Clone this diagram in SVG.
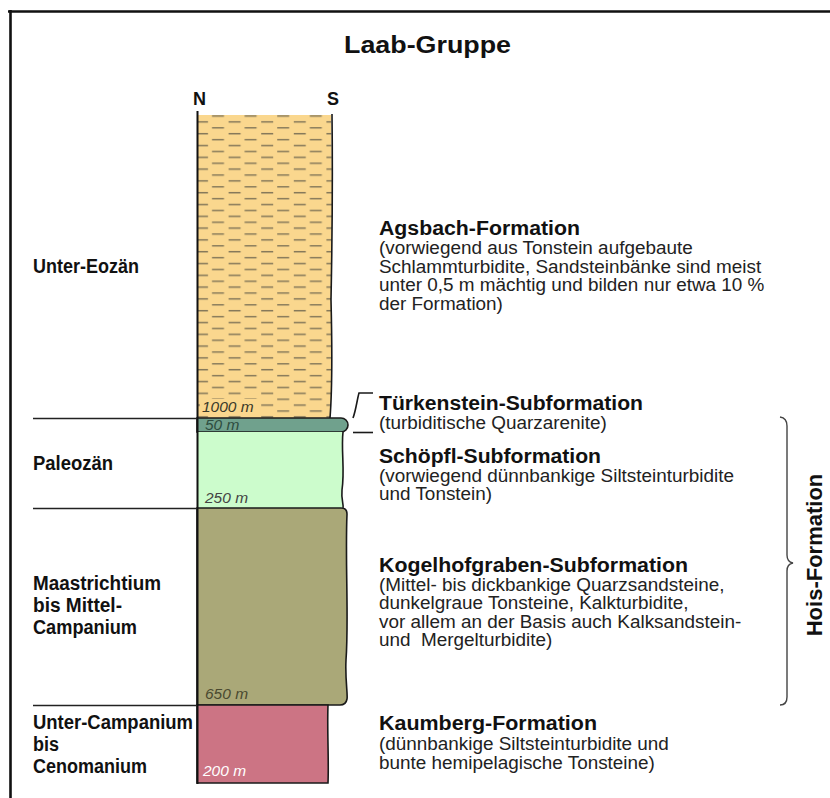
<svg xmlns="http://www.w3.org/2000/svg" width="830" height="798" viewBox="0 0 830 798">
<defs>
<style>
text{font-family:"Liberation Sans",Arial,Helvetica,sans-serif}
.h{font-size:19.5px;font-weight:bold;fill:#111}
.r{font-size:18.9px;fill:#222}
.lab{font-size:20px;font-weight:bold;fill:#111}
.num{font-style:italic;font-size:15.5px}
.edge{stroke:#1a1a1a;stroke-width:1.6}
.line{stroke:#1a1a1a;stroke-width:1.6;fill:none}
.div{stroke:#222;stroke-width:1.6}
.dash{stroke:#85795a;stroke-width:1.5}
</style>
<pattern id="dashes" patternUnits="userSpaceOnUse" x="196" y="115.3" width="32.6" height="11.8">
<rect width="32.6" height="11.8" fill="#fad78e"/>
<line class="dash" x1="16" y1="0.7" x2="28" y2="0.7"/>
<line class="dash" x1="0" y1="6.6" x2="12" y2="6.6"/>
</pattern>
</defs>
<rect width="830" height="798" fill="#fff"/>
<path d="M8,11.5 H830 M10.5,10 V798" stroke="#111" stroke-width="2.6" fill="none"/>
<text x="427.5" y="53" text-anchor="middle" font-size="23.5" font-weight="bold" fill="#111" textLength="167" lengthAdjust="spacingAndGlyphs">Laab-Gruppe</text>
<text x="193" y="105" font-size="18" font-weight="bold" fill="#111">N</text>
<text x="327" y="105" font-size="18" font-weight="bold" fill="#111">S</text>

<g id="agsbach">
<path d="M197,115 H331 Q333,200 331,300 Q333,380 330,418 H197 Z" fill="url(#dashes)"/>
<path class="line" d="M332,114 Q333,200 331,300 Q333,380 330,418"/>
<rect x="200" y="399" width="59" height="15" fill="#fad78e"/>
<text class="num" x="202" y="412" font-size="16.5" fill="#3a3a2a">1000 m</text>
<text class="lab" x="33" y="273" textLength="106" lengthAdjust="spacingAndGlyphs">Unter-Eozän</text>
<text class="h" x="379" y="235" textLength="201" lengthAdjust="spacingAndGlyphs">Agsbach-Formation</text>
<text class="r" x="379" y="254">(vorwiegend aus Tonstein aufgebaute</text>
<text class="r" x="379" y="272.7">Schlammturbidite, Sandsteinbänke sind meist</text>
<text class="r" x="379" y="291.4">unter 0,5 m mächtig und bilden nur etwa 10 %</text>
<text class="r" x="379" y="310">der Formation)</text>
</g>

<g id="tuerkenstein">
<path class="edge" d="M197,418 H341 A7,7 0 0 1 341,432 H197 Z" fill="#70a18d"/>
<text class="num" x="205" y="429.5" font-size="13" fill="#2e4d40">50 m</text>
<text class="h" x="379" y="410" textLength="264" lengthAdjust="spacingAndGlyphs">Türkenstein-Subformation</text>
<text class="r" x="379" y="429">(turbiditische Quarzarenite)</text>
</g>

<g id="schoepfl">
<path d="M197,432 H343 C341,450 345,470 342,490 C341,500 344,505 343,508 H197 Z" fill="#ccfccc"/>
<path class="line" d="M343,432 C341,450 345,470 342,490 C341,500 344,505 343,508"/>
<text class="num" x="205" y="503" fill="#444">250 m</text>
<text class="lab" x="33" y="470" textLength="80" lengthAdjust="spacingAndGlyphs">Paleozän</text>
<text class="h" x="379" y="463" textLength="222" lengthAdjust="spacingAndGlyphs">Schöpfl-Subformation</text>
<text class="r" x="379" y="482">(vorwiegend dünnbankige Siltsteinturbidite</text>
<text class="r" x="379" y="500">und Tonstein)</text>
</g>

<g id="kogelhofgraben">
<path class="edge" d="M197,508 H341 Q347,508 347,514 C345,560 349,620 346,660 C345,680 348,695 347,699 Q346,705 340,705 H197 Z" fill="#aaa878"/>
<text class="num" x="205" y="699" fill="#4a4a30">650 m</text>
<text class="lab" x="33" y="590" textLength="128" lengthAdjust="spacingAndGlyphs">Maastrichtium</text>
<text class="lab" x="33" y="612" textLength="89" lengthAdjust="spacingAndGlyphs">bis Mittel-</text>
<text class="lab" x="33" y="634" textLength="104" lengthAdjust="spacingAndGlyphs">Campanium</text>
<text class="h" x="379" y="572" textLength="309" lengthAdjust="spacingAndGlyphs">Kogelhofgraben-Subformation</text>
<text class="r" x="379" y="591">(Mittel- bis dickbankige Quarzsandsteine,</text>
<text class="r" x="379" y="609.3">dunkelgraue Tonsteine, Kalkturbidite,</text>
<text class="r" x="379" y="627.6">vor allem an der Basis auch Kalksandstein-</text>
<text class="r" x="379" y="646" xml:space="preserve">und  Mergelturbidite)</text>
</g>

<g id="kaumberg">
<path class="edge" d="M197,705 H328 C327,730 329,760 328,783 H197 Z" fill="#cc7484"/>
<text class="num" x="203" y="776" fill="#fff">200 m</text>
<text class="lab" x="33" y="729" textLength="160" lengthAdjust="spacingAndGlyphs">Unter-Campanium</text>
<text class="lab" x="33" y="751" textLength="26" lengthAdjust="spacingAndGlyphs">bis</text>
<text class="lab" x="33" y="773" textLength="114" lengthAdjust="spacingAndGlyphs">Cenomanium</text>
<text class="h" x="379" y="730" textLength="218" lengthAdjust="spacingAndGlyphs">Kaumberg-Formation</text>
<text class="r" x="379" y="750">(dünnbankige Siltsteinturbidite und</text>
<text class="r" x="379" y="769">bunte hemipelagische Tonsteine)</text>
</g>

<g id="hois">
<text transform="translate(822,555) rotate(-90)" text-anchor="middle" font-size="22" font-weight="bold" fill="#111">Hois-Formation</text>
</g>

<g id="connectors">
<line x1="197.5" y1="111" x2="197.5" y2="784" stroke="#111" stroke-width="2"/>
<line class="div" x1="33" y1="418.5" x2="197" y2="418.5"/>
<line class="div" x1="33" y1="508.5" x2="197" y2="508.5"/>
<line class="div" x1="33" y1="705.5" x2="197" y2="705.5"/>
<path class="line" d="M353,418 C356,410 357,400 359,393 H373"/>
<path class="line" d="M353,432.5 H373"/>
<path d="M780,417 Q787,418 787,426 V555 Q787,562 793,563 Q787,564 787,571 V697 Q787,705 780,705" stroke="#444" stroke-width="1.4" fill="none"/>
</g>
</svg>
